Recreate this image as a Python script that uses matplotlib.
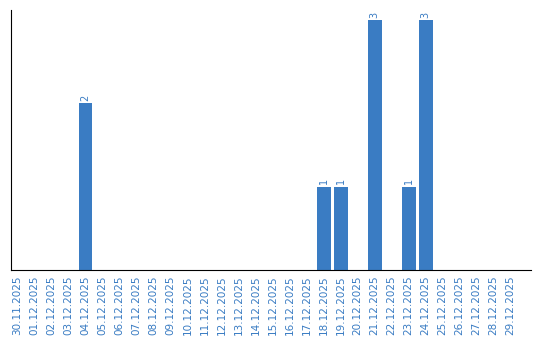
import matplotlib
matplotlib.use("Agg")
import matplotlib.pyplot as plt

# Data
dates = ["30.11.2025"] + ["%02d.12.2025" % d for d in range(1, 30)]
counts = [0, 0, 0, 0, 2, 0, 0, 0, 0, 0,
          0, 0, 0, 0, 0, 0, 0, 0, 1, 1,
          0, 3, 0, 1, 3, 0, 0, 0, 0, 0]

blue = "#3a7cc3"

fig = plt.figure(figsize=(5.4, 3.4), dpi=100)
ax = fig.add_axes([11/540, 1 - 270/340, 520/540, 260/340])

x = list(range(len(dates)))
bars = ax.bar(x, counts, width=0.82, color=blue)

# value labels only for non-zero bars
for b, v in zip(bars, counts):
    if v > 0:
        ax.text(b.get_x() + b.get_width() / 2, v + 0.03, str(v),
                rotation=90, ha="center", va="bottom", color=blue, fontsize=7)

ax.set_xlim(-0.38, 30.2)
ax.set_ylim(0, 3.12)
ax.set_xticks(x)
ax.set_xticklabels(dates, rotation=90, color=blue, fontsize=7.5)
ax.tick_params(axis="x", length=0, pad=4)
ax.set_yticks([])
ax.spines["top"].set_visible(False)
ax.spines["right"].set_visible(False)
ax.spines["left"].set_color("black")
ax.spines["bottom"].set_color("black")

fig.savefig("out.png", dpi=100)
